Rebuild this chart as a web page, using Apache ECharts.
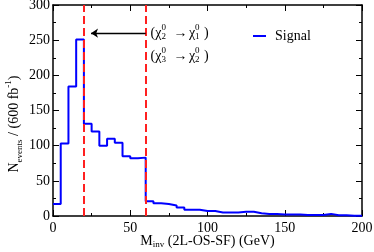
<!DOCTYPE html>
<html><head><meta charset="utf-8">
<script src="https://cdn.jsdelivr.net/npm/echarts@6/dist/echarts.min.js"></script>
<style>html,body{margin:0;padding:0;background:#fff}#c{width:374px;height:252px}</style>
</head><body><div id="c"></div>
<script>
// ---- data ----
const binEdges = [0,5,10,15,20,25,30,35,40,45,50,55,60,65,70,75,80,85,90,95,100,105,110,115,120,125,130,135,140,145,150,155,160,165,170,175,180,185,190,195];
const binUpper = 200;
const signalCounts = [17,103,184,251,131,120,100,110,104,85,82,83,21,18,17,15,12,9,9,7,7,5,5,5,6,6,4,3,3,2,2,2,1.5,1.5,1.5,3,1,1,0.5,0.5];
const cutLines = [20, 60];
const arrowStart = [60, 260];
const arrowEnd = [24.6, 260];
const decayLabels = [['2','1'], ['3','2']];
const seriesName = 'Signal';

const FONT = '"Liberation Serif", "DejaVu Serif", serif';
const stepData = binEdges.map((e, i) => [e, signalCounts[i]]);
stepData.push([binUpper, signalCounts[signalCounts.length - 1]]);

const chart = echarts.init(document.getElementById('c'), null, {renderer: 'canvas'});

const mctx = document.createElement('canvas').getContext('2d');
function tw(t, size) { mctx.font = size + 'px ' + FONT; return mctx.measureText(t).width; }

function decayText(x0, yc, lo, hi) {
  const els = [];
  let x = x0;
  const big = 14, small = 9;
  function add(t, size, dy) {
    els.push({type: 'text', x: x, y: yc + dy, style: {text: t, fontFamily: FONT, fontSize: size, fill: '#000', verticalAlign: 'middle', align: 'left'}, silent: true});
  }
  function scripts(sub) {
    add('0', small, -5);
    add(sub, small, 4);
    x += tw('0', small);
  }
  add('(\u03c7', big, 0); x += tw('(\u03c7', big);
  scripts(lo);
  x += 7.5;
  add('\u2192', big, 0); x += tw('\u2192', big) + 1.5;
  add('\u03c7', big, 0); x += tw('\u03c7', big);
  scripts(hi);
  x += 4.5;
  add(')', big, 0);
  return els;
}

const graphics = [].concat(
  decayText(150.5, 33, decayLabels[0][0], decayLabels[0][1]),
  decayText(150.5, 56, decayLabels[1][0], decayLabels[1][1]),
  [{
    type: 'text', x: 14, y: 124, rotation: Math.PI / 2, silent: true,
    style: {
      text: '{a|N}{sub|events}{a| / (600 fb}{sup|-1}{a|)}',
      align: 'center', verticalAlign: 'middle', fill: '#000',
      rich: {
        a: {fontFamily: FONT, fontSize: 14, fill: '#000', lineHeight: 20},
        sub: {fontFamily: FONT, fontSize: 9, fill: '#000', verticalAlign: 'bottom', lineHeight: 20},
        sup: {fontFamily: FONT, fontSize: 9, fill: '#000', verticalAlign: 'top', lineHeight: 20}
      }
    }
  }]
);

const axisCommon = {
  axisLine: {show: true, onZero: false, lineStyle: {color: '#000', width: 1.5}},
  axisTick: {show: true, inside: true, length: 6, lineStyle: {color: '#000', width: 1}},
  minorTick: {show: true, splitNumber: 2, length: 3, lineStyle: {color: '#000', width: 1}},
  splitLine: {show: false}
};

const option = {
  animation: false,
  backgroundColor: '#fff',
  grid: {left: 53, right: 12, top: 5, bottom: 36, containLabel: false, outerBoundsMode: 'none'},
  legend: {
    data: [seriesName], left: 248, top: 24, icon: 'rect', itemWidth: 13, itemHeight: 2,
    textStyle: {fontFamily: FONT, fontSize: 14, color: '#000', padding: [0, 0, 0, 4]},
    selectedMode: false
  },
  xAxis: [
    Object.assign({}, axisCommon, {
      type: 'value', min: 0, max: 200, interval: 50, position: 'bottom',
      axisLabel: {margin: 5, fontFamily: FONT, fontSize: 14, color: '#000'},
      name: '{a|M}{sub|inv}{a| (2L-OS-SF) (GeV)}', nameLocation: 'middle', nameGap: 25,
      nameMoveOverlap: false,
      nameTextStyle: {verticalAlign: 'middle', rich: {
        a: {fontFamily: FONT, fontSize: 14, color: '#000', lineHeight: 16},
        sub: {fontFamily: FONT, fontSize: 9, color: '#000', verticalAlign: 'bottom', lineHeight: 16}
      }}
    }),
    Object.assign({}, axisCommon, {
      type: 'value', min: 0, max: 200, interval: 50, position: 'top',
      axisLabel: {show: false}
    })
  ],
  yAxis: [
    Object.assign({}, axisCommon, {
      type: 'value', min: 0, max: 300, interval: 50, position: 'left',
      axisLabel: {margin: 3, fontFamily: FONT, fontSize: 14, color: '#000'}
    }),
    Object.assign({}, axisCommon, {
      type: 'value', min: 0, max: 300, interval: 50, position: 'right',
      axisLabel: {show: false}
    })
  ],
  graphic: graphics,
  series: [
    {
      name: seriesName, type: 'line', step: 'end', data: stepData,
      showSymbol: false, symbol: 'none',
      lineStyle: {color: '#0000ff', width: 2},
      itemStyle: {color: '#0000ff'},
      z: 3,
      markLine: {
        silent: true, symbol: ['none', 'none'], label: {show: false},
        lineStyle: {color: '#ff2020', width: 2, type: [8, 4]},
        data: cutLines.map(v => ({xAxis: v})),
        z: 4
      }
    },
    {
      type: 'lines', coordinateSystem: 'cartesian2d', silent: true,
      symbol: ['none', 'arrow'], symbolSize: 7,
      lineStyle: {color: '#000', width: 1.3, opacity: 1},
      data: [{coords: [arrowStart, arrowEnd]}],
      z: 5
    }
  ]
};
chart.setOption(option);
</script>
</body></html>
